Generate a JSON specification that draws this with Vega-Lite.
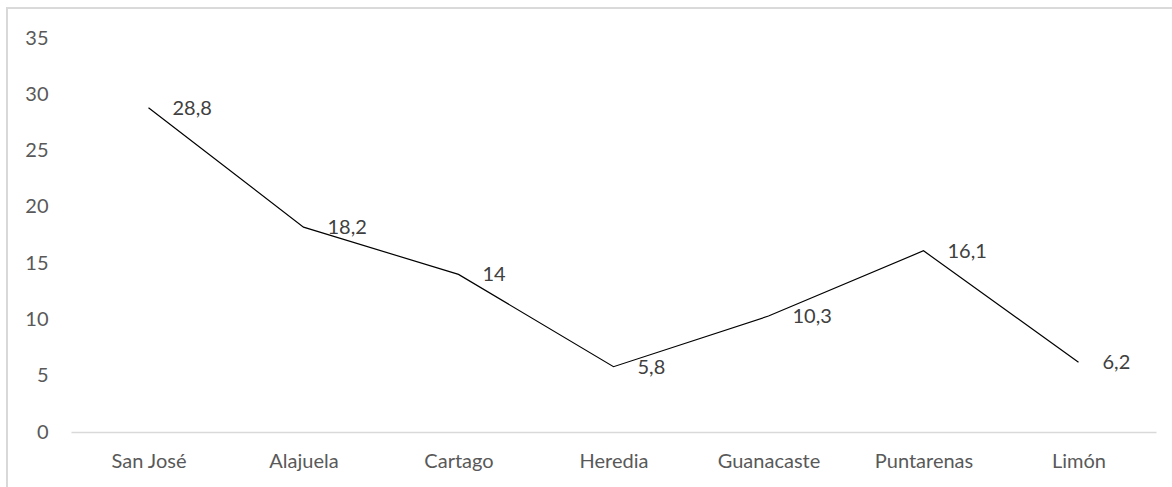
{
  "$schema": "https://vega.github.io/schema/vega-lite/v6.json",
  "width": 1085,
  "height": 394,
  "autosize": {"type": "none"},
  "padding": {"left": 71, "top": 38, "right": 16, "bottom": 55},
  "background": "white",
  "config": {
    "view": {"stroke": null},
    "font": "Lato",
    "axis": {"labelFont": "Lato", "labelColor": "#595959", "labelFontSize": 20, "grid": false, "ticks": false}
  },
  "data": {
    "values": [
      {"provincia": "San José", "valor": 28.8, "etiqueta": "28,8"},
      {"provincia": "Alajuela", "valor": 18.2, "etiqueta": "18,2"},
      {"provincia": "Cartago", "valor": 14, "etiqueta": "14"},
      {"provincia": "Heredia", "valor": 5.8, "etiqueta": "5,8"},
      {"provincia": "Guanacaste", "valor": 10.3, "etiqueta": "10,3"},
      {"provincia": "Puntarenas", "valor": 16.1, "etiqueta": "16,1"},
      {"provincia": "Limón", "valor": 6.2, "etiqueta": "6,2"}
    ]
  },
  "layer": [
    {
      "mark": {"type": "rect", "filled": false, "stroke": "#d9d9d9", "strokeWidth": 1.5, "clip": false},
      "encoding": {
        "x": {"datum": -0.059, "type": "quantitative", "scale": {"domain": [0, 1], "nice": false, "zero": false}, "axis": null},
        "x2": {"datum": 1.2},
        "y": {"datum": 37.65, "type": "quantitative"},
        "y2": {"datum": -8}
      }
    },
    {
      "encoding": {
        "x": {"field": "provincia", "type": "nominal", "sort": null,
              "scale": {"paddingInner": 0, "paddingOuter": 0},
              "axis": {"title": null, "labelAngle": 0, "domainColor": "#d9d9d9", "domainWidth": 1.5, "labelPadding": 19}},
        "y": {"field": "valor", "type": "quantitative",
              "scale": {"domain": [0, 35], "nice": false},
              "axis": {"title": null, "values": [0, 5, 10, 15, 20, 25, 30, 35], "domain": false, "labelPadding": 23}}
      },
      "layer": [
        {
          "mark": {"type": "line", "color": "#000000", "strokeWidth": 1.2}
        },
        {
          "mark": {"type": "text", "align": "left", "baseline": "middle", "dx": 24, "dy": 1, "fontSize": 20, "font": "Lato", "color": "#404040"},
          "encoding": {
            "text": {"field": "etiqueta"}
          }
        }
      ]
    }
  ],
  "resolve": {"scale": {"x": "independent"}}
}
